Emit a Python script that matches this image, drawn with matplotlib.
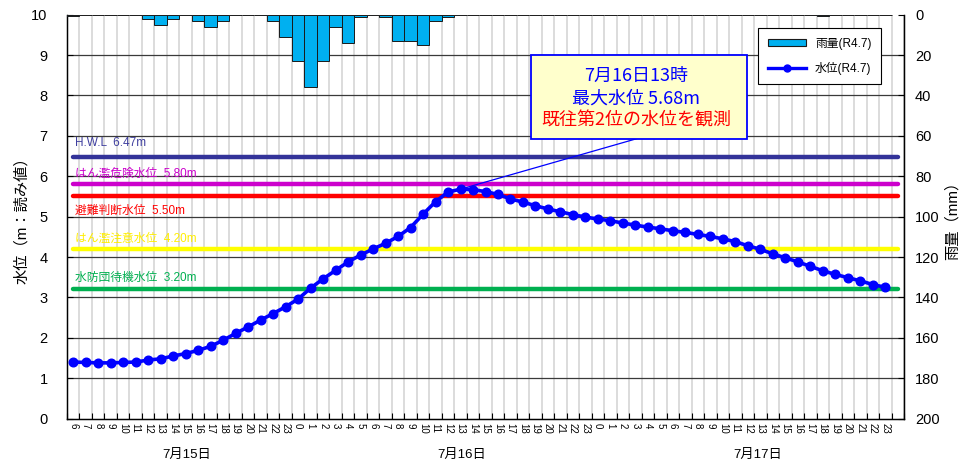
import matplotlib
matplotlib.use("Agg")
import matplotlib.pyplot as plt
from matplotlib.patches import Rectangle, Patch
from matplotlib.lines import Line2D
import numpy as np

plt.rcParams['font.family'] = ['Liberation Sans', 'Noto Sans CJK JP', 'DejaVu Sans']

# ---------------- data ----------------
hour_labels = [str(h) for h in range(6, 24)] + [str(h) for h in range(24)] + [str(h) for h in range(24)]
day_labels = ["7月15日", "7月16日", "7月17日"]
day_label_pos = [9.1, 31.1, 54.8]

water_level = [1.40, 1.39, 1.38, 1.38, 1.39, 1.40, 1.45, 1.48, 1.55, 1.61,
               1.69, 1.79, 1.94, 2.11, 2.27, 2.44, 2.60, 2.77, 2.96, 3.23,
               3.46, 3.67, 3.88, 4.05, 4.20, 4.34, 4.51, 4.73, 5.06, 5.37,
               5.61, 5.68, 5.67, 5.62, 5.55, 5.44, 5.36, 5.27, 5.19, 5.12,
               5.05, 4.99, 4.94, 4.90, 4.84, 4.79, 4.74, 4.70, 4.65, 4.61,
               4.56, 4.51, 4.45, 4.38, 4.28, 4.19, 4.08, 3.98, 3.88, 3.77,
               3.66, 3.57, 3.49, 3.41, 3.32, 3.25]

rainfall = [0.5, 0, 0, 0, 0, 0, 2, 5, 2, 0,
            3, 6, 3, 0, 0, 0, 3, 11, 23, 36,
            23, 6, 14, 1, 0, 1, 13, 13, 15, 3,
            1, 0, 0, 0, 0, 0, 0, 0, 0, 0,
            0, 0, 0, 0, 0, 0, 0, 0, 0, 0,
            0, 0, 0, 0, 0, 0, 0, 0, 0, 0,
            0.5, 0, 0, 0, 0, 0]

ref_names = ["H.W.L", "はん濫危険水位", "避難判断水位", "はん濫注意水位", "水防団待機水位"]
ref_values = [6.47, 5.80, 5.50, 4.20, 3.20]
ref_colors = ["#333399", "#CC00CC", "#FF0000", "#FFFF00", "#00B050"]
ref_text_colors = ["#3F3F9F", "#CC00CC", "#FF0000", "#FFEE00", "#00B050"]
ref_label_offsets = [0.35, 0.27, -0.36, 0.24, 0.29]

peak_index = 31
peak_value = 5.68
annot_lines = ["7月16日13時", "最大水位 5.68m", "既往第2位の水位を観測"]
annot_colors = ["#0000FF", "#0000FF", "#FF0000"]

legend_rain = "雨量(R4.7)"
legend_level = "水位(R4.7)"

# ---------------- figure ----------------
fig = plt.figure(figsize=(9.63, 4.65), dpi=100)
ax = fig.add_axes([67/963, 1-418.6/465, 837/963, 403.9/465])
ax2 = ax.twinx()

n = len(hour_labels)
nslots = n + 1
x = np.arange(n)

ax.set_xlim(-0.5, nslots - 0.5)
ax.set_ylim(0, 10)
ax2.set_ylim(200, 0)

# grid
for b in np.arange(-0.5, nslots - 0.4, 1.0):
    ax.axvline(b, color="#D9D9D9", lw=1.3, zorder=0)
for v in range(1, 10):
    ax.axhline(v, color="#3a3a3a", lw=0.9, zorder=0.5)

# reference lines
for name, val, col, tcol, off in zip(ref_names, ref_values, ref_colors, ref_text_colors, ref_label_offsets):
    ax.plot([0, nslots - 1], [val, val], color=col, lw=3.2, solid_capstyle='round', zorder=2)
    ax.text(0.14, val + off, f"{name}  {val:.2f}m", color=tcol, fontsize=8.5,
            va='center', ha='left', zorder=3)

# water level
ax.plot(x, water_level, color="#0000FF", lw=2.6, marker='o', markersize=6.2, zorder=4)

# rainfall bars
ax2.bar(x, rainfall, width=1.0, color="#00B0F0", edgecolor="#1a1a1a", linewidth=0.7, zorder=3)

# annotation box
bx, by, bw, bh = 36.64, 6.93, 17.27, 2.065
cx = bx + bw / 2
ax.plot([45.1, peak_index], [by, peak_value], color="#0000FF", lw=0.9, zorder=5)
ax.add_patch(Rectangle((bx, by), bw, bh, facecolor="#FFFFCC", edgecolor="#0000FF", lw=1.3, zorder=6))
for i, (t, c) in enumerate(zip(annot_lines, annot_colors)):
    ax.text(cx - 0.2, by + bh - 0.52 - i * 0.55, t, color=c, fontsize=13, ha='center', va='center',
            family=['Noto Sans CJK JP'], zorder=7)

# ticks
ax.set_xticks(np.arange(-0.5, nslots - 0.4, 1.0))
ax.set_xticklabels([])
ax.set_xticks(x, minor=True)
ax.set_xticklabels(hour_labels, minor=True, rotation=270, fontsize=7)
ax.tick_params(axis='x', which='major', direction='in', length=4, width=0.8)
ax.tick_params(axis='x', which='minor', length=0, pad=3)
ax.set_yticks(range(0, 11))
ax.tick_params(axis='y', direction='in', length=4, labelsize=10.5, pad=14)
ax2.set_yticks(range(0, 201, 20))
ax2.tick_params(axis='y', direction='in', length=4, labelsize=10.5, pad=8)

for sp in ax.spines.values():
    sp.set_linewidth(1.0)
ax.spines['top'].set_visible(False)
ax2.spines['top'].set_visible(False)

ax.set_ylabel("水位（m：読み値）", fontsize=11)
ax2.set_ylabel("雨量（mm）", fontsize=11, rotation=90)
ax.yaxis.set_label_coords(-0.045, 0.5)
ax2.yaxis.set_label_coords(1.049, 0.5)

for lab, pos in zip(day_labels, day_label_pos):
    ax.text(pos, -0.09, lab, transform=ax.get_xaxis_transform(), ha='center', va='center', fontsize=9.5)

handles = [Patch(facecolor="#00B0F0", edgecolor="#1a1a1a", lw=0.8),
           Line2D([0], [0], color="#0000FF", lw=2.4, marker='o', markersize=5)]
leg = ax2.legend(handles, [legend_rain, legend_level], loc='upper right',
                 bbox_to_anchor=(0.9725, 0.966), borderaxespad=0, fontsize=8.5,
                 fancybox=False, edgecolor='black', framealpha=1, handlelength=3.2,
                 handleheight=0.5, labelspacing=1.0, borderpad=0.8)
leg.get_frame().set_linewidth(0.8)
leg.set_zorder(10)

fig.savefig("out.png", dpi=100)
